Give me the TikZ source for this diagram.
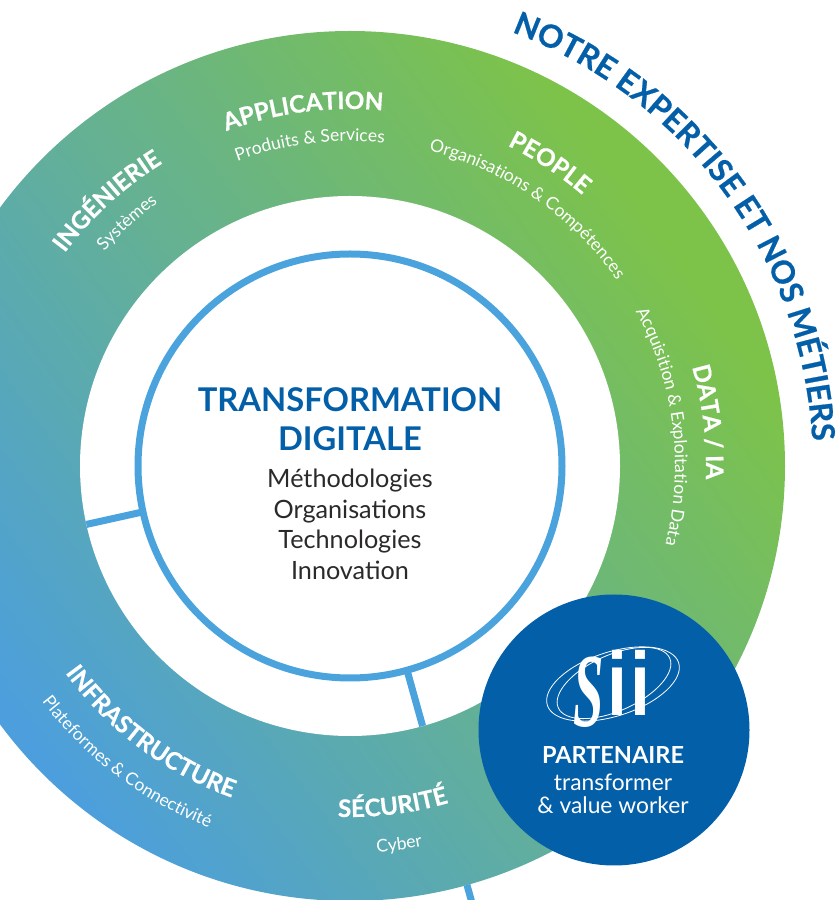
\documentclass[tikz,border=0pt]{standalone}
\usepackage{fontspec}
\setmainfont{Lato}
\newfontfamily\heavyfont[BoldFeatures={FakeBold=0.6}]{Lato}
\newfontfamily\logoserif{Liberation Serif}
\newfontfamily\logosans{Liberation Sans}
\usepackage[HTML]{xcolor}
\usetikzlibrary{decorations.text, positioning, calc}

\definecolor{ringgreen}{HTML}{7DC349}
\definecolor{ringblue}{HTML}{4C9FDC}
\definecolor{spokeblue}{HTML}{4AA3DD}
\definecolor{siiblue}{HTML}{045FA9}
\definecolor{inktext}{HTML}{2B2A29}

\pgfdeclarehorizontalshading{ringfade}{100bp}{color(0bp)=(ringblue); color(29.2bp)=(ringblue); color(69.5bp)=(ringgreen); color(100bp)=(ringgreen)}

\tikzset{
  spoke/.style={draw=spokeblue, line width=7pt},
  corehead/.style={anchor=base, text=siiblue, font=\fontsize{32.7}{33}\selectfont\bfseries},
  coreline/.style={anchor=base, text=inktext, font=\fontsize{25.2}{25}\selectfont},
  partnerline/.style={anchor=base, text=white, font=\fontsize{22.8}{23}\selectfont},
  ringoval/.style={draw=white, line width=0.8pt},
}

% #1 radius, #2 start angle, #3 end angle, #4 font, #5 text
\newcommand{\arclabel}[5]{
  \path[decorate, decoration={text along path, text align=center,
    text={|#4|#5}}]
    ($(ctr)+(#2:#1)$) arc[start angle=#2, end angle=#3, radius=#1];
}
\newcommand{\headfont}{\heavyfont\bfseries\fontsize{24.2}{25}\selectfont\color{white}}
\newcommand{\tinyfont}{\fontsize{17.5}{18}\selectfont\color{white}}

\begin{document}
\catcode`\&=12
\begin{tikzpicture}[x=1pt, y=1pt]
\useasboundingbox (0,0) rectangle (837,900);
\clip (0,0) rectangle (837,900);
\coordinate (ctr) at (350,434);

% ring
\begin{scope}
\clip (ctr) circle (435);
\shade[shading=ringfade, transform canvas={rotate around={36:(ctr)}}]
  (-150,-500) rectangle (850,1400);
\end{scope}
\fill[white] (ctr) circle (270);

% spokes
\coordinate (leftin)  at ($(ctr)+(192.5:212)$);
\coordinate (leftout) at ($(ctr)+(192.5:270)$);
\coordinate (lowin)   at ($(ctr)+(-74.4:212)$);
\coordinate (lowout)  at ($(ctr)+(-74.4:270)$);
\coordinate (tailin)  at ($(ctr)+(-74.4:435)$);
\coordinate (tailout) at ($(ctr)+(-74.4:490)$);
\draw[spoke] (leftin) -- (leftout);
\draw[spoke] (lowin) -- (lowout);
\draw[spoke] (tailin) -- (tailout);

% centre
\node[circle, draw=spokeblue, line width=7pt, fill=white, minimum size=424pt, inner sep=0pt] (core) at (ctr) {};
\node[corehead] (title1) at (350,488) {TRANSFORMATION};
\node[corehead] (title2) at (350,449) {DIGITALE};
\node[coreline] (item1) at (350,412) {Méthodologies};
\node[coreline] (item2) at (350,381) {Organisations};
\node[coreline] (item3) at (350,351) {Technologies};
\node[coreline] (item4) at (350,320) {Innovation};

% ring labels
\arclabel{357}{150}{45}{\headfont}{APPLICATION}
\arclabel{325}{149.6}{44.6}{\tinyfont}{Produits & Services}
\arclabel{356}{185}{80}{\headfont}{INGÉNIERIE}
\arclabel{326}{185}{80}{\tinyfont}{Systèmes}
\arclabel{357}{111.2}{2}{\headfont}{PEOPLE}
\arclabel{325}{109.4}{1.4}{\tinyfont}{Organisations & Compétences}
\arclabel{356}{60}{-46}{\headfont}{DATA / IA}
\arclabel{325}{60}{-45.5}{\tinyfont}{Acquisition & Exploitation Data}
\arclabel{352}{180}{286.4}{\headfont}{INFRASTRUCTURE}
\arclabel{388}{180}{286.1}{\tinyfont}{Plateformes & Connectivité}
\arclabel{351}{225}{329.4}{\headfont}{SÉCURITÉ}
\arclabel{387}{225}{329.8}{\tinyfont}{Cyber}

% outer title
\arclabel{463}{100}{-27.4}{\heavyfont\color{siiblue}\fontsize{31.7}{32}\selectfont\bfseries}{NOTRE EXPERTISE ET NOS MÉTIERS}

% partner
\node[circle, fill=siiblue, minimum size=271pt, inner sep=0pt] (partner) at (614,170) {};
\draw[ringoval, rotate around={18:(613,216)}] (613,216) ellipse (69 and 32);
\draw[ringoval, rotate around={24:(614,217)}] (614,217) ellipse (61 and 28);
\node[text=white, xscale=0.78, yscale=1.5, font=\logoserif\fontsize{70}{70}\selectfont\bfseries\itshape] (logoS) at (589,208) {S};
\node[text=white, xscale=1.2, yscale=1.5, font=\logosans\fontsize{60}{60}\selectfont\bfseries] (logoi) at (617,217) {i};
\node[text=white, xscale=1.2, yscale=1.5, font=\logosans\fontsize{60}{60}\selectfont\bfseries] (logoj) at (640,217) {i};
\node[partnerline, font=\fontsize{23.5}{24}\selectfont\bfseries] (pname) at (613,136.5) {PARTENAIRE};
\node[partnerline] (pline1) at (613,109) {transformer};
\node[partnerline] (pline2) at (613,86) {\& value worker};
\end{tikzpicture}
\end{document}
